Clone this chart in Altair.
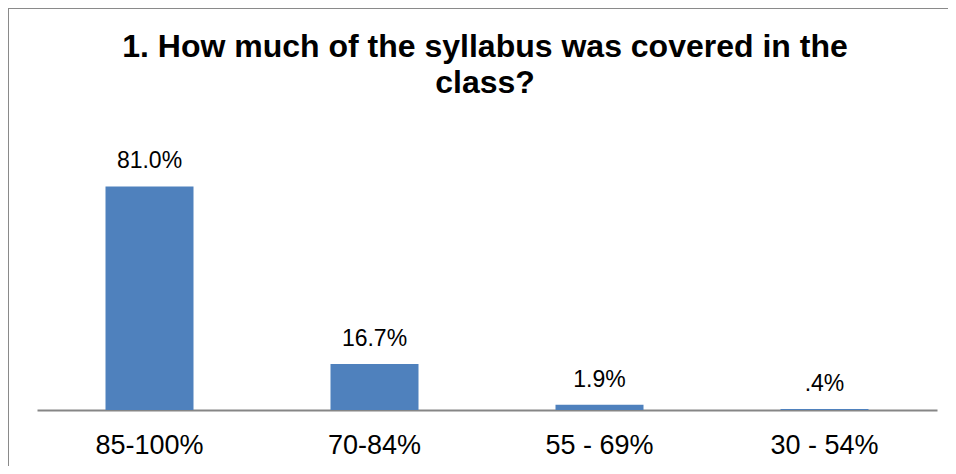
import altair as alt
import pandas as pd

categories = ["85-100%", "70-84%", "55 - 69%", "30 - 54%"]
shares = [0.810, 0.167, 0.019, 0.004]
labels = ["81.0%", "16.7%", "1.9%", ".4%"]
title_lines = ["1. How much of the syllabus was covered in the", "class?"]

df = pd.DataFrame({"range": categories, "share": shares, "label": labels})

x = alt.X(
    "range:N",
    sort=categories,
    scale=alt.Scale(range=[29, 929], paddingInner=0, paddingOuter=0),
    axis=alt.Axis(
        title=None,
        orient="bottom",
        offset=-56,
        domainColor="#868686",
        domainWidth=2,
        ticks=False,
        labelFontSize=27,
        labelFont="Liberation Sans",
        labelColor="#000000",
        labelPadding=22,
        labelAngle=0,
    ),
)
y = alt.Y("share:Q", scale=alt.Scale(domain=[0, 1], range=[402, 126]), axis=None)

bars = alt.Chart(df).mark_bar(size=88, color="#4F81BD").encode(x=x, y=y)
text = alt.Chart(df).mark_text(
    baseline="alphabetic", dy=-18, fontSize=23, font="Liberation Sans", color="#000000"
).encode(x=x, y=y, text="label:N")

# frame lines (top and left edge of the figure border)
frame_top = alt.Chart(df).mark_rule(color="#8a8a8a", strokeWidth=2).encode(
    x=alt.value(0), x2=alt.value(940), y=alt.value(0)
)
frame_left = alt.Chart(df).mark_rule(color="#8a8a8a", strokeWidth=2).encode(
    x=alt.value(0), y=alt.value(0), y2=alt.value(458)
)

chart = alt.layer(frame_top, frame_left, bars, text).properties(
    width=940,
    height=458,
    padding=0,
    autosize=alt.AutoSizeParams(type="none"),
    title=alt.TitleParams(
        text=title_lines,
        font="Liberation Sans",
        fontSize=32,
        fontWeight="bold",
        color="#000000",
        lineHeight=36,
        anchor="middle",
        baseline="alphabetic",
        offset=-118,
        dx=7,
    ),
).configure_view(stroke=None)

chart.save("out.html", embed_options={"renderer": "svg", "actions": False})
